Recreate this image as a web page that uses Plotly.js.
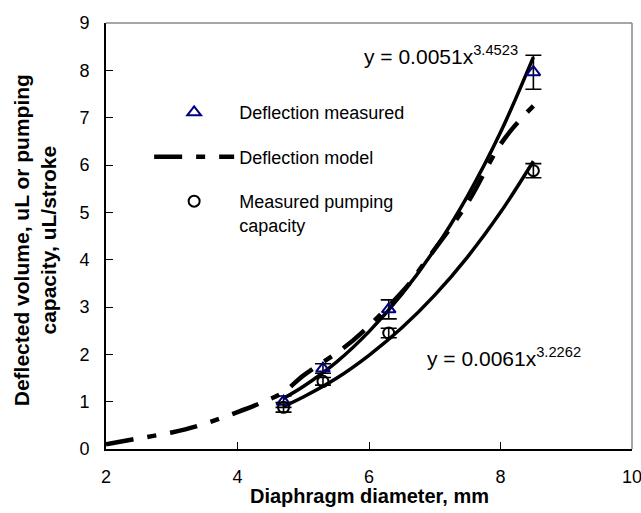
<!DOCTYPE html>
<html>
<head>
<meta charset="utf-8">
<script src="https://cdn.plot.ly/plotly-3.0.1.min.js"></script>
<style>html,body{margin:0;padding:0;background:#fff;}#chart{width:641px;height:513px;}</style>
</head>
<body>
<div id="chart"></div>
<script>
// Measured points (diameter, mm)
var measX = [4.7, 5.3, 6.3, 8.5];
var measDefl = [1.0, 1.7, 2.95, 7.96];
var measDeflErr = [0.12, 0.1, 0.2, 0.36];
var measPump = [0.88, 1.43, 2.45, 5.88];
var measPumpErr = [0.1, 0.08, 0.1, 0.15];

// Deflection model curve
var modelX = [2.0, 2.4, 3.0, 3.4, 4.0, 4.4, 4.7, 5.0, 5.6, 5.9, 6.6, 6.8, 7.5, 7.95, 8.2, 8.5];
var modelY = [0.1, 0.2, 0.35, 0.49, 0.78, 1.0, 1.2, 1.55, 2.12, 2.47, 3.47, 3.85, 5.2, 6.33, 6.8, 7.25];

// Power trendlines
var fitX = [4.7, 5.0, 5.5, 6.0, 6.5, 7.0, 7.5, 8.0, 8.5];
var fitDefl = [1.07, 1.32, 1.83, 2.48, 3.27, 4.22, 5.35, 6.69, 8.28];
var fitPump = [0.90, 1.10, 1.49, 1.98, 2.56, 3.25, 4.06, 5.0, 6.08];

var eqDefl = 'y = 0.0051x<sup>3.4523</sup>';
var eqPump = 'y = 0.0061x<sup>3.2262</sup>';
var xTitle = '<b>Diaphragm diameter, mm</b>';
var yTitle = '<b>Deflected volume, uL or pumping<br>capacity, uL/stroke</b>';

var xTicks = [2, 4, 6, 8, 10];
var yTicks = [0, 1, 2, 3, 4, 5, 6, 7, 8, 9];

var FONT = 'Liberation Sans, Arial, sans-serif';

var traces = [
  {x: fitX, y: fitDefl, mode: 'lines', line: {color: '#000', width: 3.5, shape: 'spline'}, showlegend: false, hoverinfo: 'skip'},
  {x: fitX, y: fitPump, mode: 'lines', line: {color: '#000', width: 3.5, shape: 'spline'}, showlegend: false, hoverinfo: 'skip'},
  {x: measX, y: measDefl, mode: 'markers', name: 'Deflection measured', legendgroup: 'a',
   marker: {symbol: 'triangle-up-open', size: 12, color: '#000080', line: {width: 2, color: '#000080'}},
   error_y: {type: 'data', array: measDeflErr, visible: true, color: '#000', thickness: 1.6, width: 8}},
  {x: modelX, y: modelY, mode: 'lines', name: 'Deflection model', legendgroup: 'b',
   line: {color: '#000', width: 4.5, dash: '28px,14px,9px,14px', shape: 'spline'}},
  {x: measX, y: measPump, mode: 'markers', name: 'Measured pumping<br>capacity', legendgroup: 'c',
   marker: {symbol: 'circle-open', size: 11, color: '#000', line: {width: 2, color: '#000'}},
   error_y: {type: 'data', array: measPumpErr, visible: true, color: '#000', thickness: 1.6, width: 8}}
];

var layout = {
  width: 641, height: 513,
  margin: {l: 106, r: 9, t: 23, b: 64},
  paper_bgcolor: '#fff', plot_bgcolor: '#fff',
  font: {family: FONT, size: 18, color: '#000'},
  showlegend: true,
  legend: {x: 0.082, y: 0.833, xanchor: 'left', yanchor: 'top', bgcolor: 'rgba(0,0,0,0)',
           font: {family: FONT, size: 18, color: '#000'}, traceorder: 'grouped', tracegroupgap: 18,
           itemwidth: 80, valign: 'top'},
  xaxis: {range: [2, 10], tickvals: xTicks, ticks: 'inside', ticklen: 7, tickcolor: '#000',
          showline: true, linecolor: '#000', linewidth: 2, showgrid: false, zeroline: false,
          ticklabeloverflow: 'allow', ticklabelstandoff: 10,
          tickfont: {family: FONT, size: 18}},
  yaxis: {range: [0, 9], tickvals: yTicks, ticks: 'inside', ticklen: 7, tickcolor: '#000',
          showline: true, linecolor: '#000', linewidth: 2, showgrid: false, zeroline: false,
          ticklabeloverflow: 'allow', ticklabelstandoff: 11,
          tickfont: {family: FONT, size: 18}},
  shapes: [
    {type: 'line', xref: 'paper', yref: 'paper', x0: 0, x1: 1, y0: 1, y1: 1, line: {color: '#888', width: 1.5}},
    {type: 'line', xref: 'paper', yref: 'paper', x0: 1, x1: 1, y0: 0, y1: 1, line: {color: '#888', width: 1.5}}
  ],
  annotations: [
    {text: eqDefl, xref: 'paper', yref: 'paper', x: 0.487, y: 0.925, xanchor: 'left', yanchor: 'middle', showarrow: false, font: {family: FONT, size: 21}},
    {text: eqPump, xref: 'paper', yref: 'paper', x: 0.606, y: 0.217, xanchor: 'left', yanchor: 'middle', showarrow: false, font: {family: FONT, size: 21}},
    {text: xTitle, xref: 'paper', yref: 'paper', x: 0.5, y: -0.11, xanchor: 'center', yanchor: 'middle', showarrow: false, font: {family: FONT, size: 20}},
    {text: yTitle, xref: 'paper', yref: 'paper', x: -0.135, y: 0.49, xanchor: 'center', yanchor: 'middle', textangle: -90, showarrow: false, font: {family: FONT, size: 21}}
  ]
};

Plotly.newPlot('chart', traces, layout, {displayModeBar: false, staticPlot: true});
</script>
</body>
</html>
